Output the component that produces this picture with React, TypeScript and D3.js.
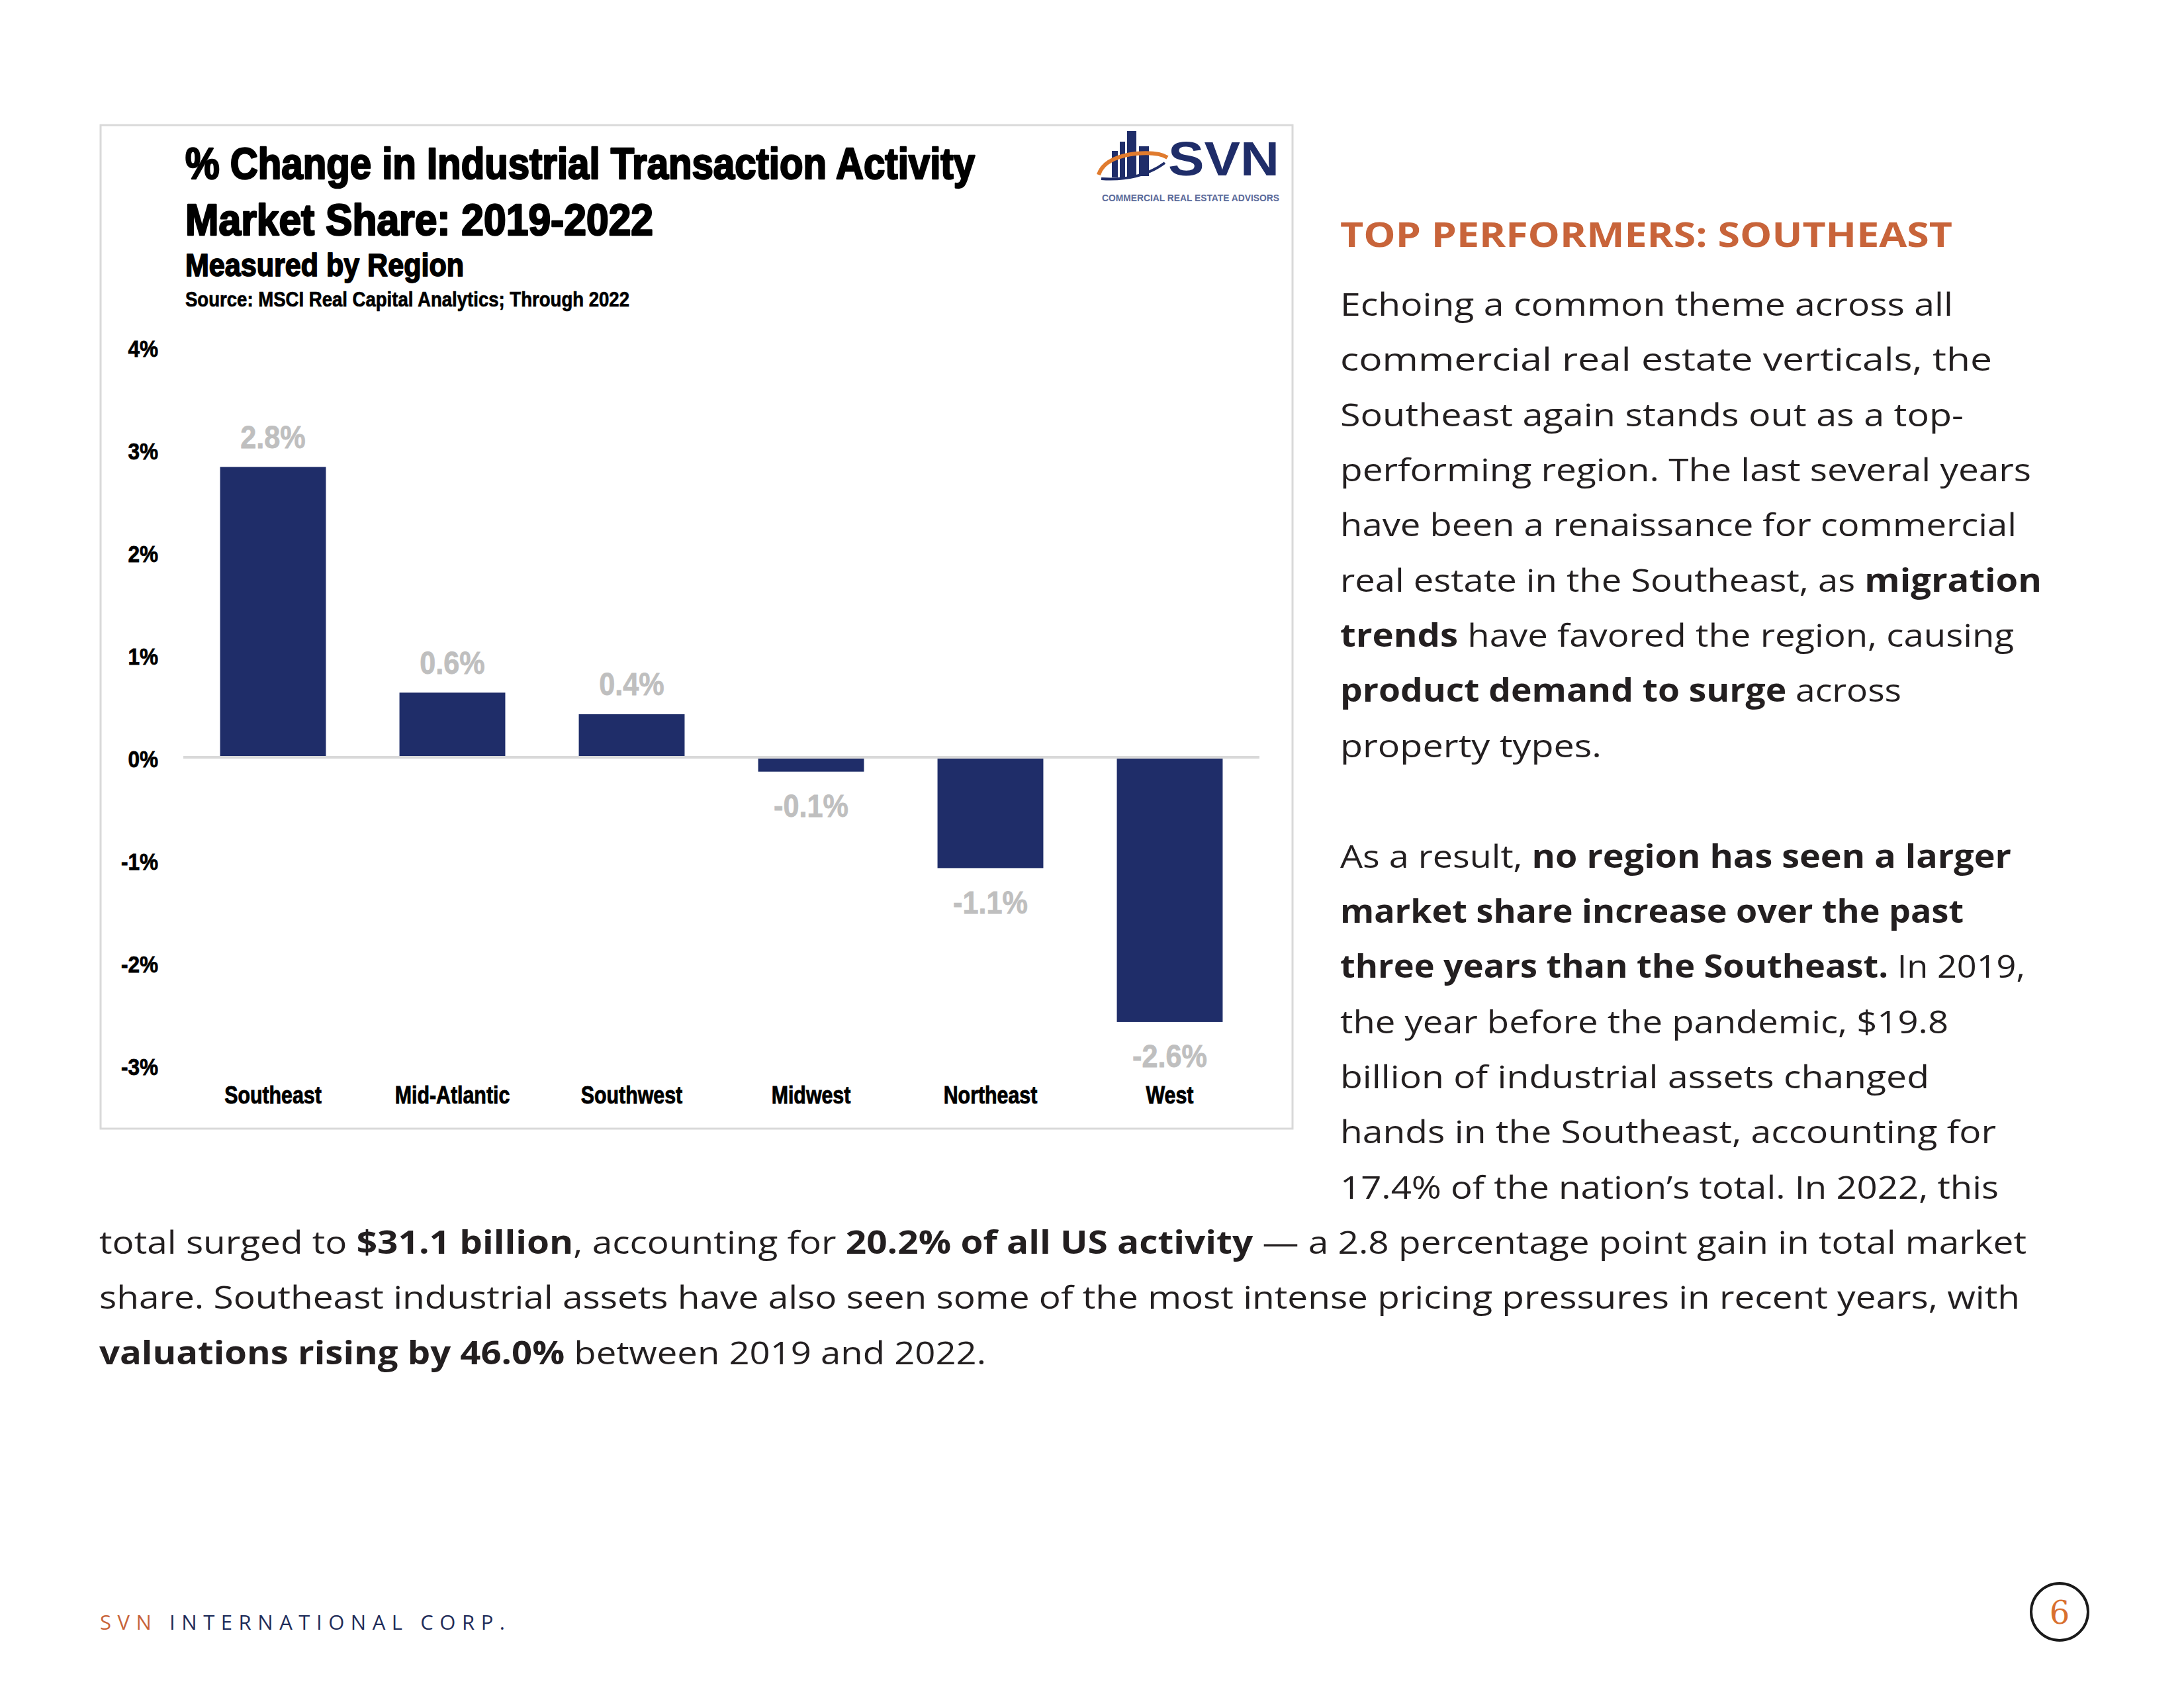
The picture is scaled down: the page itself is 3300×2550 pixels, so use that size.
import React from "react";
import * as d3 from "d3";

// ---- Chart data ----
const regions = ["Southeast", "Mid-Atlantic", "Southwest", "Midwest", "Northeast", "West"];
const shareChange = [2.83, 0.63, 0.42, -0.14, -1.08, -2.58];
const valueLabels = ["2.8%", "0.6%", "0.4%", "-0.1%", "-1.1%", "-2.6%"];
const yTicks = [4, 3, 2, 1, 0, -1, -2, -3];
const yTickLabels = ["4%", "3%", "2%", "1%", "0%", "-1%", "-2%", "-3%"];

const titleLines = ["% Change in Industrial Transaction Activity", "Market Share: 2019-2022"];
const subtitle = "Measured by Region";
const sourceNote = "Source: MSCI Real Capital Analytics; Through 2022";

// ---- Page text ----
const heading = "TOP PERFORMERS: SOUTHEAST";
type Seg = [string, boolean];
const columnLines: Seg[][] = [
  [["Echoing a common theme across all", false]],
  [["commercial real estate verticals, the", false]],
  [["Southeast again stands out as a top-", false]],
  [["performing region. The last several years", false]],
  [["have been a renaissance for commercial", false]],
  [["real estate in the Southeast, as ", false], ["migration", true]],
  [["trends", true], [" have favored the region, causing", false]],
  [["product demand to surge", true], [" across", false]],
  [["property types.", false]],
  [],
  [["As a result, ", false], ["no region has seen a larger", true]],
  [["market share increase over the past", true]],
  [["three years than the Southeast.", true], [" In 2019,", false]],
  [["the year before the pandemic, $19.8", false]],
  [["billion of industrial assets changed", false]],
  [["hands in the Southeast, accounting for", false]],
  [["17.4% of the nation\u2019s total. In 2022, this", false]],
];
const fullLines: Seg[][] = [
  [["total surged to ", false], ["$31.1 billion", true], [", accounting for ", false], ["20.2% of all US activity", true], [" \u2014 a 2.8 percentage point gain in total market", false]],
  [["share. Southeast industrial assets have also seen some of the most intense pricing pressures in recent years, with", false]],
  [["valuations rising by 46.0%", true], [" between 2019 and 2022.", false]],
];
// measured line widths (layout)
const columnWidths = [926, 985, 942, 1044, 1022, 1060, 1018, 848, 395, 0, 1014, 942, 1035, 919, 890, 991, 995];
const fullWidths = [2912, 2902, 1340];

const NAVY = "#1f2d69";
const ORANGE = "#c8643a";
const TEXT = "#231f20";
const NARROW = "'Liberation Sans Narrow', 'Liberation Sans', Arial, sans-serif";
const SANS = "'Liberation Sans', Arial, sans-serif";
const BODY = "'Open Sans', 'Noto Sans', sans-serif";

export default function App() {
  const x = d3.scaleBand<string>().domain(regions).range([277, 1903]).paddingInner(0.41).paddingOuter(0.205);
  const y = d3.scaleLinear().domain([-3, 4]).range([1609, 524]);
  const y0 = y(0);

  const lineH = 83.35;
  const firstBase = 477;

  const renderSegs = (segs: Seg[]) =>
    segs.map((s, i) => (
      <tspan key={i} fontWeight={s[1] ? 700 : 400}>{s[0]}</tspan>
    ));

  return (
    <svg width={3300} height={2550} style={{ position: "absolute", left: 0, top: 0, background: "#fff" }}>
      <rect x={0} y={0} width={3300} height={2550} fill="#fff" />
      {/* Chart frame */}
      <rect x={152} y={189} width={1801} height={1516} fill="#fff" stroke="#d9d9d9" strokeWidth={3} />

      {/* Titles */}
      <g fontFamily={NARROW} fontWeight={700} fill="#000" stroke="#000" strokeLinejoin="round">
        <text x={280} y={270} fontSize={66} textLength={1193} lengthAdjust="spacingAndGlyphs" strokeWidth={2.6}>{titleLines[0]}</text>
        <text x={280} y={355} fontSize={66} textLength={707} lengthAdjust="spacingAndGlyphs" strokeWidth={2.6}>{titleLines[1]}</text>
        <text x={280} y={417} fontSize={48} textLength={421} lengthAdjust="spacingAndGlyphs" strokeWidth={1.8}>{subtitle}</text>
        <text x={280} y={463} fontSize={31} textLength={671} lengthAdjust="spacingAndGlyphs" strokeWidth={0.7}>{sourceNote}</text>
      </g>

      {/* Logo */}
      <g>
        <rect x={1680} y={228} width={9} height={40} fill={NAVY} />
        <rect x={1692} y={214} width={8} height={54} fill={NAVY} />
        <rect x={1703} y={198} width={14} height={70} fill={NAVY} />
        <rect x={1721} y={221} width={15} height={45} fill={NAVY} />
        <path d="M1660,264 Q1668,238 1716,232 Q1750,229 1764,238" fill="none" stroke="#e07b2e" strokeWidth={6} />
        <path d="M1664,270 Q1722,274 1760,246" fill="none" stroke={NAVY} strokeWidth={4} />
        <text x={1765} y={265} fontFamily={SANS} fontWeight={700} fontSize={72} fill={NAVY} textLength={168} lengthAdjust="spacingAndGlyphs">SVN</text>
        <text x={1665} y={304} fontFamily={NARROW} fontWeight={700} fontSize={14} fill="#5a6a9a" textLength={268} lengthAdjust="spacingAndGlyphs">COMMERCIAL REAL ESTATE ADVISORS</text>
      </g>

      {/* Y axis labels */}
      <g fontFamily={NARROW} fontWeight={700} fontSize={35} fill="#000" stroke="#000" strokeWidth={0.8} textAnchor="end">
        {yTicks.map((t, i) => (
          <text key={t} transform={`translate(239,${y(t) + 3}) scale(0.9,1)`} dominantBaseline="central">{yTickLabels[i]}</text>
        ))}
      </g>

      {/* Bars */}
      {regions.map((r, i) => {
        const v = shareChange[i];
        return (
          <rect key={r} x={x(r)} width={x.bandwidth()} y={Math.min(y(v), y0)} height={Math.abs(y(v) - y0)} fill={NAVY} />
        );
      })}

      {/* Zero line */}
      <line x1={277} x2={1903} y1={y0} y2={y0} stroke="#d9d9d9" strokeWidth={4} />

      {/* Value labels */}
      <g fontFamily={SANS} fontWeight={700} fontSize={48} fill="#bfbfbf" stroke="#bfbfbf" strokeWidth={0.8} textAnchor="middle">
        {regions.map((r, i) => {
          const v = shareChange[i];
          const cy = v >= 0 ? y(v) - 45 : y(v) + 52;
          return (
            <text key={r} transform={`translate(${(x(r) as number) + x.bandwidth() / 2},${cy}) scale(0.9,1)`} dominantBaseline="central">{valueLabels[i]}</text>
          );
        })}
      </g>

      {/* Category labels */}
      <g fontFamily={NARROW} fontWeight={700} fontSize={37} fill="#000" stroke="#000" strokeWidth={0.9} textAnchor="middle">
        {regions.map((r) => (
          <text key={r} transform={`translate(${(x(r) as number) + x.bandwidth() / 2},1667) scale(0.82,1)`}>{r}</text>
        ))}
      </g>

      {/* Right column */}
      <text x={2025} y={373} fontFamily={BODY} fontWeight={700} fontSize={52} fill={ORANGE} textLength={925} lengthAdjust="spacingAndGlyphs">{heading}</text>
      <g fontFamily={BODY} fontSize={48} fill={TEXT}>
        {columnLines.map((segs, i) =>
          segs.length === 0 ? null : (
            <text key={i} x={2025} y={firstBase + i * lineH} textLength={columnWidths[i]} lengthAdjust="spacingAndGlyphs">
              {renderSegs(segs)}
            </text>
          )
        )}
        {fullLines.map((segs, i) => (
          <text key={"f" + i} x={150} y={firstBase + (columnLines.length + i) * lineH} textLength={fullWidths[i]} lengthAdjust="spacingAndGlyphs">
            {renderSegs(segs)}
          </text>
        ))}
      </g>

      {/* Footer */}
      <text x={151} y={2462} fontFamily={BODY} fontSize={31} textLength={612} lengthAdjust="spacing">
        <tspan fill={ORANGE}>SVN </tspan>
        <tspan fill="#1f2d5a">INTERNATIONAL CORP.</tspan>
      </text>
      <circle cx={3112} cy={2435} r={43} fill="none" stroke="#1a1a1a" strokeWidth={4} />
      <text x={3112} y={2453} textAnchor="middle" fontFamily="'DejaVu Serif', 'Liberation Serif', serif" fontSize={48} fill="#d9702f">6</text>
    </svg>
  );
}
